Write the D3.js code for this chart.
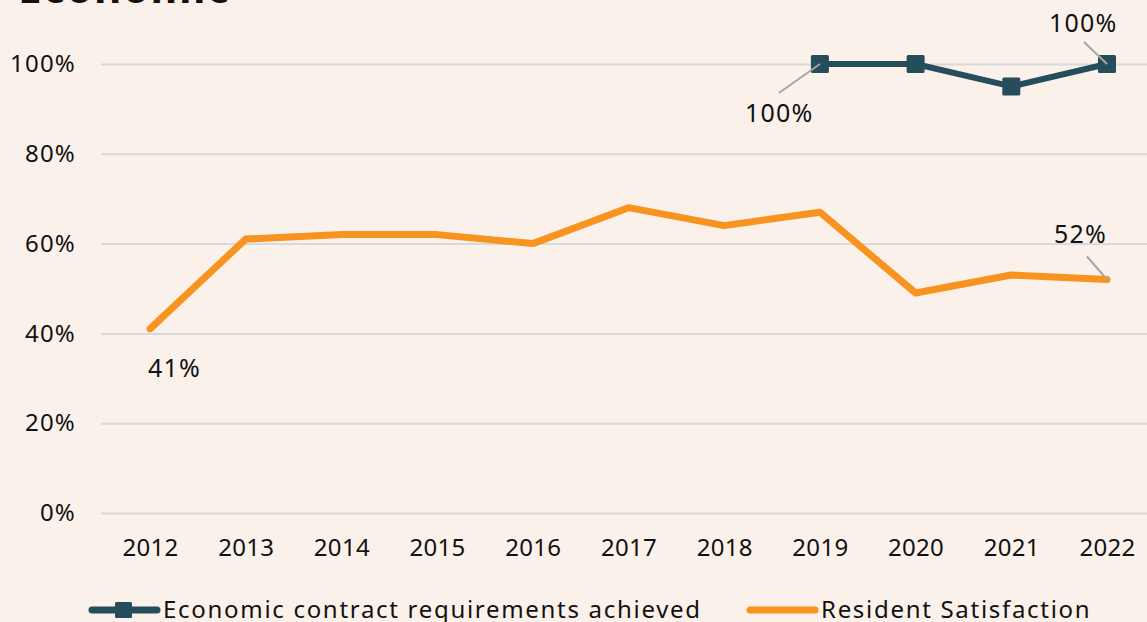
<!DOCTYPE html>
<html>
<head>
<meta charset="utf-8">
<script src="https://cdn.jsdelivr.net/npm/d3@7"></script>
<style>
  body { margin: 0; background: #FAF1EB; }
  svg { display: block; font-family: "Noto Sans", sans-serif; }
</style>
</head>
<body>
<svg width="1147" height="622"></svg>
<script>
// chart data
var years = ["2012","2013","2014","2015","2016","2017","2018","2019","2020","2021","2022"];
var satisfaction = [0.41, 0.61, 0.62, 0.62, 0.60, 0.68, 0.64, 0.67, 0.49, 0.53, 0.52];
var contractYears = ["2019","2020","2021","2022"];
var contract = [1.00, 1.00, 0.95, 1.00];
var yTicks = [0, 0.2, 0.4, 0.6, 0.8, 1.0];
var seriesNames = ["Economic contract requirements achieved", "Resident Satisfaction"];

var svg = d3.select("svg"),
    width = +svg.attr("width"),
    height = +svg.attr("height");

var dark = "#264D5C",
    orange = "#F7931E",
    font = "Noto Sans";

svg.append("rect")
    .attr("width", width)
    .attr("height", height)
    .attr("fill", "#FAF1EB");

// title is mostly cut off at the top of the frame
svg.append("text")
    .attr("x", 18)
    .attr("y", 3)
    .attr("font-size", 42)
    .attr("font-weight", "bold")
    .attr("letter-spacing", 1.5)
    .attr("fill", "#111")
    .text("Economic");

var x = d3.scalePoint()
    .domain(years)
    .range([150, 1107]);

var y = d3.scaleLinear()
    .domain([0, 1])
    .range([513, 64]);

// y axis + gridlines
var yAxis = svg.append("g")
    .attr("transform", "translate(101,0)")
    .call(d3.axisLeft(y)
      .tickValues(yTicks)
      .tickFormat(d3.format(".0%"))
      .tickSize(-(width - 101))
      .tickPadding(25));
yAxis.select(".domain").remove();
yAxis.selectAll("line").attr("stroke", "#D9D9D9").attr("stroke-width", 2);
yAxis.selectAll("text")
    .attr("font-size", 24)
    .attr("letter-spacing", 1.2)
    .attr("fill", "#111")
    .attr("font-family", font);

// x axis
var xAxis = svg.append("g")
    .attr("transform", "translate(0,513)")
    .call(d3.axisBottom(x).tickSize(0).tickPadding(26));
xAxis.select(".domain").remove();
xAxis.selectAll("text")
    .attr("font-size", 24)
    .attr("letter-spacing", 0.3)
    .attr("fill", "#111")
    .attr("font-family", font);

var line = d3.line()
    .x(function(d) { return x(d[0]); })
    .y(function(d) { return y(d[1]); });

var satData = years.map(function(d, i) { return [d, satisfaction[i]]; });
var conData = contractYears.map(function(d, i) { return [d, contract[i]]; });

svg.append("path")
    .datum(satData)
    .attr("fill", "none")
    .attr("stroke", orange)
    .attr("stroke-width", 7)
    .attr("stroke-linecap", "round")
    .attr("stroke-linejoin", "round")
    .attr("d", line);

svg.append("path")
    .datum(conData)
    .attr("fill", "none")
    .attr("stroke", dark)
    .attr("stroke-width", 6)
    .attr("stroke-linejoin", "round")
    .attr("d", line);

svg.selectAll("rect.marker")
    .data(conData)
  .enter().append("rect")
    .attr("class", "marker")
    .attr("x", function(d) { return x(d[0]) - 9; })
    .attr("y", function(d) { return y(d[1]) - 9; })
    .attr("width", 18)
    .attr("height", 18)
    .attr("rx", 1.5)
    .attr("fill", dark);

// data labels with leader lines
var pct = d3.format(".0%");
var labels = [
  { key: years[0], value: satisfaction[0], dx: -2, dy: 48, lead: null },
  { key: years[10], value: satisfaction[10], dx: -53, dy: -37, lead: [-20, -23] },
  { key: contractYears[0], value: contract[0], dx: -75, dy: 58, lead: [-41, 29] },
  { key: contractYears[3], value: contract[3], dx: -58, dy: -32, lead: [-23, -22] }
];

labels.forEach(function(l) {
  var px = x(l.key), py = y(l.value);
  if (l.lead) {
    svg.append("line")
      .attr("x1", px).attr("y1", py)
      .attr("x2", px + l.lead[0]).attr("y2", py + l.lead[1])
      .attr("stroke", "#A6A6A6")
      .attr("stroke-width", 2);
  }
  svg.append("text")
    .attr("x", px + l.dx)
    .attr("y", py + l.dy)
    .attr("font-size", 25)
    .attr("letter-spacing", 1.2)
    .attr("fill", "#111")
    .text(pct(l.value));
});

// legend
var legend = svg.append("g");

legend.append("line")
    .attr("x1", 92).attr("x2", 157)
    .attr("y1", 610).attr("y2", 610)
    .attr("stroke", dark)
    .attr("stroke-width", 7)
    .attr("stroke-linecap", "round");
legend.append("rect")
    .attr("x", 115).attr("y", 602)
    .attr("width", 17).attr("height", 16)
    .attr("rx", 1.5)
    .attr("fill", dark);
legend.append("text")
    .attr("x", 163).attr("y", 618)
    .attr("font-size", 24)
    .attr("letter-spacing", 1.7)
    .attr("fill", "#111")
    .text(seriesNames[0]);

legend.append("line")
    .attr("x1", 750).attr("x2", 815)
    .attr("y1", 610).attr("y2", 610)
    .attr("stroke", orange)
    .attr("stroke-width", 7)
    .attr("stroke-linecap", "round");
legend.append("text")
    .attr("x", 821).attr("y", 618)
    .attr("font-size", 24)
    .attr("letter-spacing", 1.7)
    .attr("fill", "#111")
    .text(seriesNames[1]);
</script>
</body>
</html>
